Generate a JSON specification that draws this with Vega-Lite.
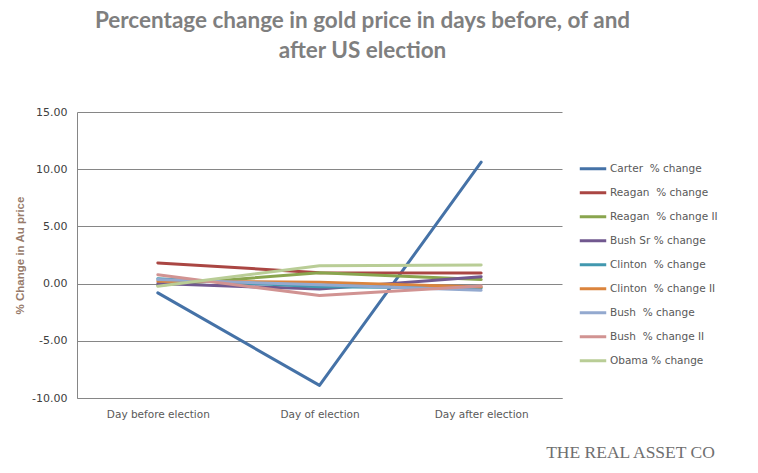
{
  "$schema": "https://vega.github.io/schema/vega-lite/v6.json",
  "width": 485,
  "height": 286,
  "autosize": "none",
  "padding": {"left": 77, "top": 112, "right": 196, "bottom": 75},
  "background": "white",
  "config": {"view": {"stroke": null}},
  "title": {
    "text": ["Percentage change in gold price in days before, of and", "after US election"],
    "font": "Lato",
    "fontSize": 22.5,
    "fontWeight": "bold",
    "color": "#7f7f7f",
    "anchor": "middle",
    "frame": "group",
    "dx": 43,
    "offset": 44,
    "lineHeight": 30
  },
  "data": {
    "values": [
      {"series": "Carter\u00a0 % change", "day": "Day before election", "value": -0.81},
      {"series": "Carter\u00a0 % change", "day": "Day of election", "value": -8.9},
      {"series": "Carter\u00a0 % change", "day": "Day after election", "value": 10.62},
      {"series": "Reagan\u00a0 % change", "day": "Day before election", "value": 1.81},
      {"series": "Reagan\u00a0 % change", "day": "Day of election", "value": 0.95},
      {"series": "Reagan\u00a0 % change", "day": "Day after election", "value": 0.92},
      {"series": "Reagan\u00a0 % change II", "day": "Day before election", "value": -0.15},
      {"series": "Reagan\u00a0 % change II", "day": "Day of election", "value": 0.95},
      {"series": "Reagan\u00a0 % change II", "day": "Day after election", "value": 0.35},
      {"series": "Bush Sr % change", "day": "Day before election", "value": 0.0},
      {"series": "Bush Sr % change", "day": "Day of election", "value": -0.48},
      {"series": "Bush Sr % change", "day": "Day after election", "value": 0.6},
      {"series": "Clinton\u00a0 % change", "day": "Day before election", "value": 0.42},
      {"series": "Clinton\u00a0 % change", "day": "Day of election", "value": -0.28},
      {"series": "Clinton\u00a0 % change", "day": "Day after election", "value": -0.38},
      {"series": "Clinton\u00a0 % change II", "day": "Day before election", "value": 0.2},
      {"series": "Clinton\u00a0 % change II", "day": "Day of election", "value": 0.12},
      {"series": "Clinton\u00a0 % change II", "day": "Day after election", "value": -0.3},
      {"series": "Bush\u00a0 % change", "day": "Day before election", "value": 0.35},
      {"series": "Bush\u00a0 % change", "day": "Day of election", "value": -0.1},
      {"series": "Bush\u00a0 % change", "day": "Day after election", "value": -0.58},
      {"series": "Bush\u00a0 % change II", "day": "Day before election", "value": 0.78},
      {"series": "Bush\u00a0 % change II", "day": "Day of election", "value": -1.05},
      {"series": "Bush\u00a0 % change II", "day": "Day after election", "value": -0.22},
      {"series": "Obama % change", "day": "Day before election", "value": -0.23},
      {"series": "Obama % change", "day": "Day of election", "value": 1.57},
      {"series": "Obama % change", "day": "Day after election", "value": 1.63}
    ]
  },
  "mark": {"type": "line", "strokeWidth": 3, "strokeCap": "round", "strokeJoin": "round"},
  "encoding": {
    "x": {
      "field": "day",
      "type": "nominal",
      "sort": ["Day before election", "Day of election", "Day after election"],
      "scale": {"type": "point", "padding": 0.5},
      "axis": {
        "title": "THE REAL ASSET CO",
        "titleFont": "Liberation Serif",
        "titleFontSize": 17.5,
        "titleFontWeight": "normal",
        "titleColor": "#6f6f6f",
        "titleX": 553,
        "titleY": 45,
        "titleAnchor": "middle",
        "titleAlign": "center",
        "titleBaseline": "top",
        "labelAngle": 0,
        "labelFont": "DejaVu Sans",
        "labelFontSize": 10.5,
        "labelColor": "#595959",
        "labelPadding": 11,
        "ticks": false,
        "domainColor": "#868686",
        "domainWidth": 1,
        "grid": false
      }
    },
    "y": {
      "field": "value",
      "type": "quantitative",
      "scale": {"domain": [-10, 15], "nice": false},
      "axis": {
        "title": "% Change in Au price",
        "titleFont": "Liberation Sans",
        "titleFontSize": 11.5,
        "titleFontWeight": "bold",
        "titleColor": "#977b6b",
        "titlePadding": 6,
        "values": [-10, -5, 0, 5, 10, 15],
        "labelExpr": "replace(format(datum.value, '.2f'), '\u2212', '-')",
        "labelFont": "DejaVu Sans",
        "labelFontSize": 11,
        "labelColor": "#404040",
        "labelPadding": 10,
        "ticks": false,
        "domainColor": "#868686",
        "domainWidth": 1,
        "grid": true,
        "gridColor": "#868686",
        "gridWidth": 1
      }
    },
    "color": {
      "field": "series",
      "type": "nominal",
      "sort": ["Carter\u00a0 % change", "Reagan\u00a0 % change", "Reagan\u00a0 % change II", "Bush Sr % change", "Clinton\u00a0 % change", "Clinton\u00a0 % change II", "Bush\u00a0 % change", "Bush\u00a0 % change II", "Obama % change"],
      "scale": {
        "domain": ["Carter\u00a0 % change", "Reagan\u00a0 % change", "Reagan\u00a0 % change II", "Bush Sr % change", "Clinton\u00a0 % change", "Clinton\u00a0 % change II", "Bush\u00a0 % change", "Bush\u00a0 % change II", "Obama % change"],
        "range": ["#4572A7", "#AA4643", "#89A54E", "#71588F", "#4198AF", "#DB843D", "#93A9CF", "#D19392", "#B9CD96"]
      },
      "legend": {
        "title": null,
        "orient": "none",
        "legendX": 501,
        "legendY": 45,
        "symbolType": "stroke",
        "symbolSize": 700,
        "symbolStrokeWidth": 3,
        "labelFont": "DejaVu Sans",
        "labelFontSize": 10.5,
        "labelColor": "#595959",
        "labelOffset": 2,
        "clipHeight": 23.4,
        "rowPadding": 0,
        "padding": 0
      }
    }
  }
}
